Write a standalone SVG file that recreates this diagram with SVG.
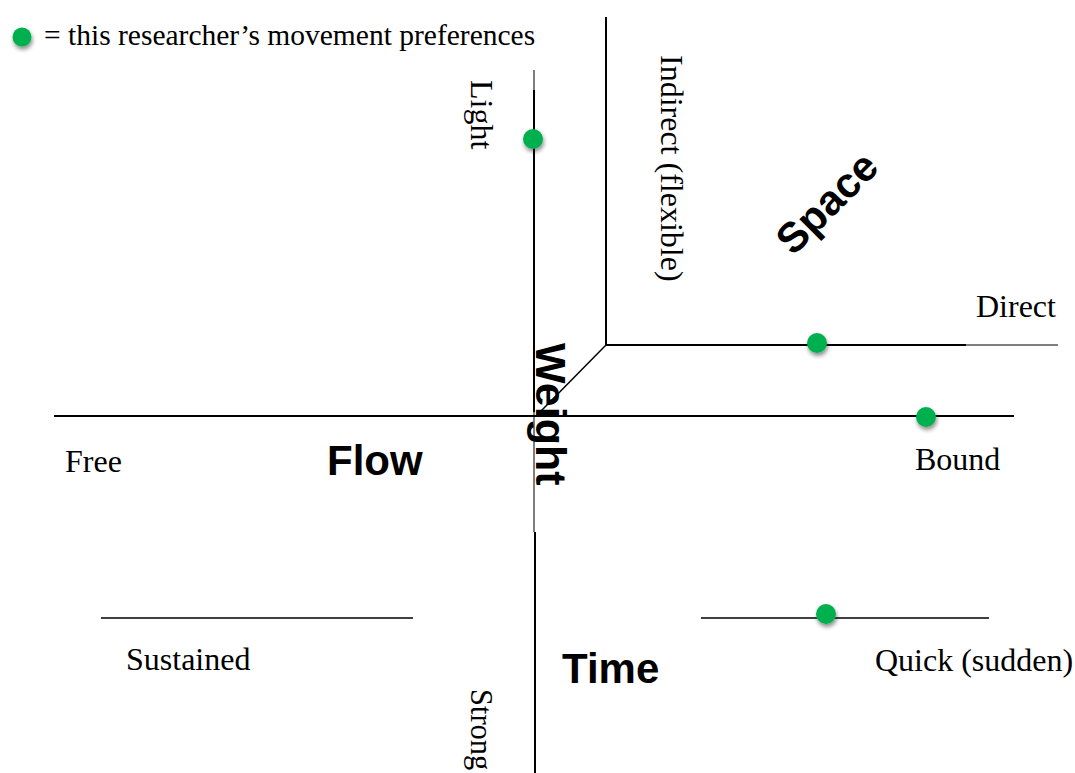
<svg xmlns="http://www.w3.org/2000/svg" width="1075" height="773" viewBox="0 0 1075 773">
<style>
.ln{stroke:#000;stroke-width:2;fill:none}
.lg{stroke:#555;stroke-width:1.5;fill:none}
.ser{font-family:"Liberation Serif","Times New Roman",serif;font-size:32px;fill:#000}
.bold{font-family:"Liberation Sans",Arial,sans-serif;font-weight:bold;font-size:42px;fill:#000}
.dot{fill:#00b050;filter:url(#sh)}
</style>
<defs>
<filter id="sh" x="-60%" y="-60%" width="220%" height="220%">
<feDropShadow dx="1" dy="3" stdDeviation="2" flood-color="#000" flood-opacity="0.45"/>
</filter>
</defs>
<rect width="1075" height="773" fill="#fff"/>
<g id="connectors">
<line class="lg" x1="534" y1="70" x2="534" y2="90"/>
<line class="ln" x1="534" y1="90" x2="534" y2="412"/>
<line class="lg" x1="534" y1="412" x2="534" y2="532"/>
<line class="ln" x1="535" y1="532" x2="535" y2="773"/>
<line class="ln" x1="54" y1="416" x2="1014" y2="416"/>
<polyline class="ln" points="606,17 606,345 966,345"/>
<line class="lg" x1="966" y1="345" x2="1058" y2="345"/>
<line class="ln" x1="606" y1="345" x2="541" y2="411" style="stroke-width:1.5"/>
<line class="ln" x1="101" y1="618" x2="413" y2="618" style="stroke-width:1.6"/>
<line class="ln" x1="701" y1="618" x2="989" y2="618" style="stroke-width:1.6"/>
</g>
<g id="legend">
<circle class="dot" cx="22" cy="37" r="9.5"/>
<text class="ser" x="44" y="45" style="font-size:29.5px">= this researcher’s movement preferences</text>
</g>
<g id="weight">
<text class="bold" transform="translate(536,343) rotate(90)" style="font-size:43px">Weight</text>
<text class="ser" transform="translate(471,80) rotate(90)">Light</text>
<text class="ser" transform="translate(471,689) rotate(90)" style="font-size:30.5px">Strong</text>
<circle class="dot" cx="533" cy="139" r="10"/>
</g>
<g id="space">
<text class="bold" text-anchor="middle" transform="translate(837,213) rotate(-45)">Space</text>
<text class="ser" transform="translate(661,55) rotate(90)">Indirect (flexible)</text>
<text class="ser" x="976" y="317">Direct</text>
<circle class="dot" cx="817" cy="343" r="10"/>
</g>
<g id="flow">
<text class="bold" x="327" y="475">Flow</text>
<text class="ser" x="65" y="472">Free</text>
<text class="ser" x="915" y="470">Bound</text>
<circle class="dot" cx="926" cy="417" r="10"/>
</g>
<g id="time">
<text class="bold" x="562" y="683">Time</text>
<text class="ser" x="126" y="670">Sustained</text>
<text class="ser" x="875" y="671">Quick (sudden)</text>
<circle class="dot" cx="826" cy="614" r="10"/>
</g>
</svg>
